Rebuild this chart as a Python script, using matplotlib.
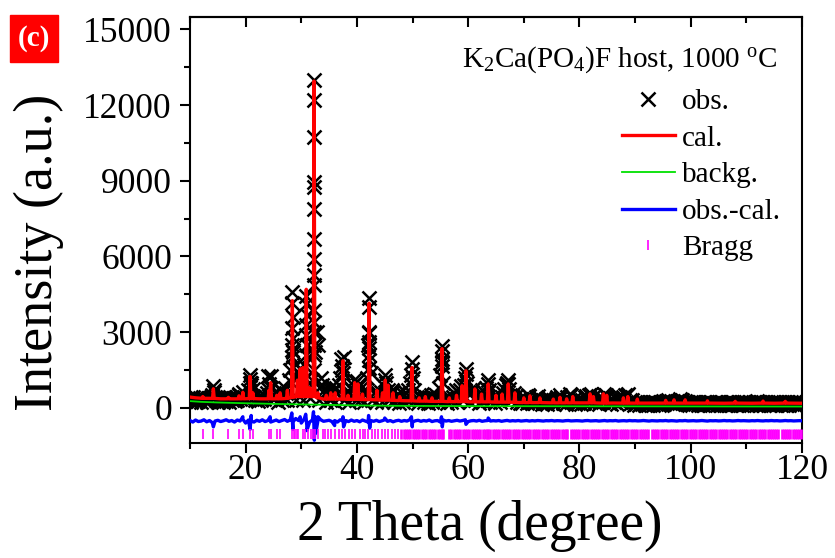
import numpy as np
import matplotlib
matplotlib.use('Agg')
import matplotlib.pyplot as plt
from matplotlib.patches import Rectangle
from matplotlib.ticker import MultipleLocator

plt.rcParams['font.family'] = 'Liberation Serif'
plt.rcParams['mathtext.fontset'] = 'custom'
plt.rcParams['mathtext.rm'] = 'Liberation Serif'
plt.rcParams['mathtext.it'] = 'Liberation Serif:italic'

obs_int = [
    400, 250, 420, 300, 230, 410, 280, 380, 240, 430, 300, 360, 220, 400, 280, 420, 500, 620, 450, 300,
    230, 400, 290, 380, 220, 420, 260, 390, 250, 430, 300, 380, 260, 440, 320, 520, 350, 480, 640, 420,
    320, 480, 700, 1000, 900, 750, 420, 300, 400, 280, 420, 300, 440, 350, 480, 600, 750, 950, 800, 500,
    350, 480, 600, 250, 550, 700, 300, 650, 800, 600, 300, 1100, 1500, 2500, 2200, 1200, 300, 1200, 1400, 1600,
    1500, 300, 1700, 1200, 2500, 2000, 400, 900, 1100, 1500, 2200, 3000, 2500, 300, 1200, 900, 700, 550, 250, 650,
    750, 300, 850, 700, 250, 800, 600, 900, 1200, 1500, 1400, 300, 600, 550, 250, 600, 800, 900, 1100, 300,
    1050, 900, 300, 800, 650, 250, 700, 1200, 2500, 3000, 1400, 300, 600, 650, 250, 600, 500, 650, 250, 900,
    1100, 1000, 700, 300, 600, 700, 650, 250, 400, 550, 200, 400, 450, 250, 500, 600, 300, 700, 1000, 1300,
    1200, 700, 300, 400, 200, 450, 400, 550, 250, 380, 450, 200, 420, 500, 250, 450, 400, 520, 250, 800,
    1300, 1800, 1000, 300, 450, 200, 450, 400, 250, 420, 600, 700, 250, 650, 700, 850, 300, 900, 1200, 1000,
    650, 250, 600, 700, 800, 300, 450, 500, 200, 600, 700, 250, 600, 800, 950, 700, 250, 380, 450, 200,
    500, 300, 380, 250, 450, 600, 750, 900, 1000, 750, 500, 300, 450, 600, 450, 250, 300, 200, 350, 180,
    300, 380, 200, 520, 480, 250, 180, 350, 200, 420, 480, 250, 300, 150, 320, 200, 350, 150, 380, 300,
    200, 300, 150, 350, 420, 250, 520, 450, 200, 320, 150, 450, 300, 550, 520, 250, 350, 150, 320, 180,
    300, 150, 330, 200, 420, 480, 250, 520, 550, 300, 420, 180, 300, 380, 150, 350, 400, 250, 550, 520,
    450, 200, 300, 150, 320, 250, 350, 150, 380, 420, 250, 450, 300, 520, 500, 550, 300, 180, 300, 120,
    250, 140, 220, 120, 240, 150, 250, 120, 200, 110, 240, 160, 230, 130, 250, 140, 210, 120, 240, 130,
    270, 150, 290, 200, 330, 180, 260, 140, 240, 160, 290, 220, 340, 250, 310, 180, 260, 140, 230, 130,
    240, 120, 220, 160, 240, 110, 230, 140, 200, 120, 250, 150, 220, 130, 240, 110, 210, 160, 240, 120,
    220, 120, 240, 150, 200, 130, 250, 130, 230, 110, 240, 170, 210, 120, 240, 140, 220, 120, 250, 150,
    230, 130, 240, 120, 210, 160, 240, 120, 260, 120, 220, 140, 240, 110, 230, 170, 210, 130, 240, 130,
    250, 120, 220, 150, 240, 120, 210, 160, 240, 120, 230, 110, 240, 140, 220, 130, 240, 120, 230, 150,
    200]
obs_tt = np.arange(10, 120.001, 0.25)

# observed points stacked along the peak flanks
obs_peak_tt = [14.18, 14.25, 18.8, 20.75, 20.85, 20.95, 24.0, 24.5,
               28.35, 28.4, 28.45, 28.35, 28.45, 28.4, 28.35, 28.45,
               30.9, 30.85, 30.95, 30.9, 30.85, 30.95, 30.9,
               32.3, 32.3, 32.3, 32.32, 32.28, 32.3, 32.3, 32.28, 32.32, 32.3, 32.28, 32.32, 32.3, 32.3, 32.3,
               37.2, 37.6, 37.4, 42.2, 42.2, 42.25, 42.15, 42.2, 42.2, 42.25, 42.2,
               45.1, 49.9, 49.85, 55.3, 55.3, 55.25, 55.35, 59.6, 59.55, 63.6, 67.2, 67.15]
obs_peak_int = [850, 700, 560, 1300, 1150, 1000, 1250, 1250,
                4600, 4150, 3620, 3170, 2770, 2300, 2030, 1640,
                4450, 4100, 3700, 3300, 2900, 2500, 2100,
                13000, 12200, 10750, 8950, 8750, 7900, 6700, 5900, 5270, 4870, 3880, 3420, 3020, 2500, 2100,
                1950, 2000, 1650, 4350, 4000, 2970, 2630, 2370, 2100, 1900, 1600,
                1300, 1800, 1550, 2450, 2250, 1950, 1650, 1550, 1350, 1100, 1100, 950]

# calculated profile: reflections (position, top, foot level)
peak_tt = [12.3, 14.2, 16.9, 18.8, 19.5, 20.8, 21.3, 24.2, 24.5, 25.6, 26.2, 27.5, 28.4, 29.3, 29.8,
           30.3, 30.9, 31.5, 32.3, 33.0, 34.5, 35.3, 36.1, 37.5, 38.4, 39.6, 40.2, 41.0, 42.2, 43.6,
           44.6, 45.1, 45.6, 46.5, 47.7, 49.9, 51.2, 52.3, 53.5, 55.3, 56.6, 57.9, 58.9, 59.6, 61.2,
           62.4, 63.6, 65.0, 66.1, 67.2, 68.4, 70.0, 71.1, 72.9, 75.3, 76.5, 77.7, 78.8, 81.9, 82.5,
           84.3, 84.9, 87.9, 88.7, 90.4, 95.5, 97.0, 99.0, 103.0, 108.0, 113.0, 117.0]
peak_cal = [450, 760, 420, 480, 620, 1250, 600, 700, 1000, 500, 600, 700, 4250, 1100, 1550,
            1600, 4700, 800, 12950, 600, 500, 600, 600, 1870, 500, 1000, 950, 550, 4150, 700,
            600, 1100, 900, 600, 450, 1600, 400, 450, 400, 2350, 400, 500, 880, 1470, 750,
            550, 950, 500, 550, 950, 600, 400, 480, 400, 350, 420, 360, 450, 560, 450,
            560, 500, 400, 450, 350, 300, 320, 320, 280, 260, 270, 260]
peak_foot = [380, 380, 360, 360, 360, 370, 370, 360, 360, 360, 360, 380, 420, 450, 450,
             450, 450, 450, 450, 400, 350, 350, 350, 350, 340, 340, 340, 330, 330, 320,
             310, 310, 310, 300, 290, 280, 270, 270, 260, 260, 250, 250, 250, 250, 240,
             240, 240, 230, 230, 230, 220, 210, 210, 210, 200, 200, 200, 200, 200, 200,
             190, 190, 190, 190, 190, 190, 190, 190, 190, 190, 190, 190]
cal_base_tt = [10.0, 11.0, 13.0, 15.5, 17.5, 22.5, 23.3, 27.0, 34.0, 39.0, 44.0, 48.5, 54.0,
               57.2, 60.5, 64.3, 69.0, 74.0, 80.0, 86.0, 92.0, 100.0, 106.0, 111.0, 115.0, 120.0]
cal_base_int = [430, 400, 380, 360, 360, 360, 360, 370, 350, 340, 310, 285, 260,
                250, 240, 235, 215, 205, 200, 195, 190, 190, 185, 185, 185, 185]

# background
bkg_tt = [10, 12, 15, 20, 25, 30, 35, 40, 46, 55, 65, 80, 100, 120]
bkg_int = [270, 240, 215, 185, 160, 140, 120, 100, 85, 75, 70, 65, 60, 55]

# difference curve (already shifted down), 0.5 deg steps
diff_int = [
    -500, -560, -480, -540, -520, -470, -550, -500, -580, -520,
    -490, -540, -510, -470, -530, -500, -560, -480, -520, -450,
    -600, -480, -520, -560, -490, -530, -470, -540, -500, -560,
    -520, -480, -540, -500, -460, -530, -480, -560, -420, -500,
    -600, -450, -700, -560, -480, -540, -500, -470, -530, -510,
    -490, -540, -500, -560, -470, -520, -500, -540, -480, -530,
    -500, -550, -480, -520, -560, -500, -530, -490, -540, -510,
    -470, -530, -500, -550, -510, -490, -530, -500, -520, -470,
    -560, -510, -490, -530, -500, -520, -480, -540, -510, -500,
    -560, -480, -520, -500, -530, -510, -490, -520, -500, -470,
    -540, -510, -500, -520, -490, -530, -510, -500, -520, -505,
    -515, -500, -530, -510, -495, -520, -505, -515, -500, -520,
    -510, -500, -520, -505, -515, -500, -510, -520, -505, -510,
    -500, -515, -505, -510, -520, -505, -500, -515, -510, -505,
    -510, -520, -505, -500, -515, -510, -505, -520, -510, -500,
    -515, -505, -510, -500, -520, -510, -505, -515, -500, -510,
    -505, -515, -510, -500, -510, -520, -505, -510, -515, -505,
    -510, -500, -515, -505, -510, -520, -505, -510, -500, -515,
    -510, -505, -515, -510, -500, -510, -520, -505, -510, -505,
    -515, -510, -500, -510, -505, -515, -510, -500, -510, -505,
    -510, -515, -505, -510, -500, -510, -515, -505, -510, -500,
    -510, -505, -515, -510, -500, -510, -505, -515, -510, -505,
    -510]
diff_tt = np.arange(10, 120.001, 0.5)
diff_spike_tt = [14.2, 19.5, 20.8, 21.0, 24.4, 28.3, 28.5, 29.8, 30.8, 31.0, 32.2, 32.35, 32.5, 32.6,
                 33.0, 36.0, 37.5, 37.6, 42.1, 42.3, 45.0, 49.8, 49.95, 55.2, 55.35, 59.6, 63.6]
diff_spike_int = [-750, -350, -850, -300, -350, -200, -850, -350, -250, -900, -150, -1280, -350, -1000,
                  -350, -700, -350, -750, -300, -800, -400, -350, -750, -350, -750, -650, -400]

# Bragg reflection positions
bragg_low = [12.28, 14.19, 16.89, 18.81, 19.47, 20.78, 21.27, 24.20, 24.56, 25.58, 26.18, 28.28, 28.69,
             28.87, 29.29, 29.47, 30.26, 30.67, 31.27, 31.69, 32.12, 32.47, 33.06, 33.86, 34.27, 34.86,
             35.28, 36.06, 36.84, 37.27, 37.86, 38.64, 39.07, 39.65, 40.56, 41.03, 41.45, 42.04, 42.65,
             43.24, 43.84, 44.44, 45.05, 45.64, 46.25, 46.84, 47.43]
bragg_high = [48.0, 48.4, 48.8, 49.2, 49.6, 50.0, 50.4, 50.8, 51.2,
              51.75, 52.1, 52.5, 52.9, 53.3, 53.7, 54.1, 54.5, 54.9, 55.3, 55.5,
              56.6, 57.0, 57.4, 57.8, 58.2, 58.6, 59.0, 59.4, 59.8, 60.2, 60.6, 61.0, 61.4, 61.8, 62.2,
              62.6, 63.0, 63.3, 63.6, 64.0, 64.4, 64.8, 65.2, 65.6, 66.0, 66.4, 66.8, 67.2, 67.6, 68.0,
              68.4, 68.8, 69.2, 69.6, 70.0, 70.4, 70.8, 71.2, 71.6, 72.0, 72.4, 72.8, 73.2, 73.6, 74.0,
              74.4, 74.8, 75.2, 75.6, 76.0, 76.4, 76.8, 77.2, 77.5, 77.8,
              78.45, 78.8, 79.2, 79.6, 80.0, 80.4, 80.8, 81.2, 81.6, 82.0, 82.4, 82.8, 83.2, 83.6, 84.0,
              84.4, 84.8, 85.2, 85.6, 86.0, 86.4, 86.8, 87.2, 87.6, 88.0, 88.4, 88.8, 89.2, 89.6, 90.0,
              90.4, 90.8, 91.2, 91.6, 92.0, 92.4,
              93.05, 93.4, 93.8, 94.2, 94.6, 95.0, 95.4, 95.8, 96.2, 96.6, 97.0, 97.4, 97.8, 98.2, 98.6,
              99.0, 99.4, 99.8, 100.2, 100.6, 101.0, 101.4, 101.8, 102.2, 102.6, 103.0, 103.4, 103.8,
              104.2, 104.6, 105.0, 105.4, 105.8, 106.2, 106.6, 107.0, 107.4, 107.8, 108.2, 108.6, 109.0,
              109.4, 109.8, 110.2, 110.6, 111.0, 111.4, 111.8, 112.2, 112.6, 113.0, 113.4, 113.8, 114.2,
              114.6, 115.0, 115.4, 115.7,
              116.35, 116.7, 117.1, 117.5, 117.9, 118.3, 118.7, 119.1, 119.5, 119.9]
bragg_level = -1030

# build calculated curve from base points and reflections
pk = np.array(peak_tt)
cal_x = np.concatenate([cal_base_tt, pk - 0.15, pk, pk + 0.15])
cal_y = np.concatenate([cal_base_int, peak_foot, peak_cal, peak_foot])
order = np.argsort(cal_x)
cal_x, cal_y = cal_x[order], cal_y[order]

dx = np.concatenate([diff_tt, diff_spike_tt])
dy = np.concatenate([diff_int, diff_spike_int])
order = np.argsort(dx)
dx, dy = dx[order], dy[order]

fig = plt.figure(figsize=(8.35, 5.58), dpi=100)
ax = fig.add_axes([190 / 835, 1 - 443 / 558, 612 / 835, 426 / 558])

ax.plot(obs_tt, obs_int, 'x', color='black', ms=9.5, mew=1.8, label='obs.', zorder=2)
ax.plot(obs_peak_tt, obs_peak_int, 'x', color='black', ms=9.5, mew=1.8, zorder=2)
ax.plot(cal_x, cal_y, color='#ff0000', lw=2.4, label='cal.', zorder=3)
ax.plot(bkg_tt, bkg_int, color='#00e000', lw=1.3, label='backg.', zorder=4)
ax.plot(dx, dy, color='#0000ff', lw=2.4, label='obs.-cal.', zorder=3)
ax.plot(bragg_low, [bragg_level] * len(bragg_low), '|', color='#ff00ff', ms=7.5, mew=1.2,
        label='Bragg', zorder=3)
ax.plot(bragg_high, [bragg_level] * len(bragg_high), '|', color='#ff00ff', ms=7.5, mew=1.9, zorder=3)

ax.set_xlim(10, 120)
ax.set_ylim(-1390, 15490)
ax.xaxis.set_major_locator(MultipleLocator(20))
ax.xaxis.set_minor_locator(MultipleLocator(10))
ax.yaxis.set_major_locator(MultipleLocator(3000))
ax.yaxis.set_minor_locator(MultipleLocator(1500))
ax.tick_params(which='major', direction='out', length=7, width=1.5, labelsize=25.5,
               top=False, right=False)
ax.tick_params(which='minor', direction='out', length=4, width=1.5, top=False, right=False)
ax.tick_params(axis='x', which='major', pad=1)
ax.tick_params(axis='y', which='major', pad=6)
for s in ax.spines.values():
    s.set_linewidth(1.5)

# top axis: inward ticks, no labels
top = ax.secondary_xaxis('top')
top.xaxis.set_major_locator(MultipleLocator(20))
top.xaxis.set_minor_locator(MultipleLocator(10))
top.tick_params(which='major', direction='in', length=7, width=1.5, labeltop=False)
top.tick_params(which='minor', direction='in', length=4, width=1.5)
top.spines['top'].set_linewidth(1.5)

ax.set_xlabel('2 Theta (degree)', fontsize=40)
ax.set_ylabel('Intensity (a.u.)', fontsize=39)
ax.xaxis.set_label_coords((480 - 190) / 612, (443 - 500) / 426)
ax.yaxis.set_label_coords((64 - 190) / 612, (443 - 252) / 426)

ax.text(0.959, 0.899, r'K$_2$Ca(PO$_4$)F host, 1000 $^{\rm o}$C', transform=ax.transAxes,
        ha='right', va='center', fontsize=21)
ax.legend(loc='upper left', bbox_to_anchor=(0.706, 0.832), frameon=False, fontsize=21,
          handlelength=1.8, handletextpad=0.25, labelspacing=0.35, borderpad=0, borderaxespad=0)

# panel tag
fig.add_artist(Rectangle((10 / 835, 1 - 62 / 558), 48 / 835, 47 / 558,
                         transform=fig.transFigure, color='#ff0000'))
fig.text(34 / 835, 1 - 39 / 558, '(c)', color='white', fontsize=21, fontweight='bold',
         ha='center', va='center')

fig.savefig('out.png', dpi=100)
